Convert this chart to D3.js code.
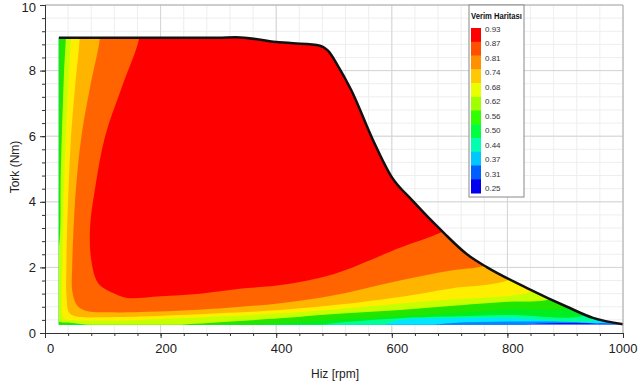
<!DOCTYPE html>
<html>
<head>
<meta charset="utf-8">
<script src="https://cdn.jsdelivr.net/npm/d3@7"></script>
<style>
  body { margin: 0; background: #fff; }
  svg { display: block; font-family: "Liberation Sans Narrow", "Liberation Sans", Arial, sans-serif; }
</style>
</head>
<body>
<svg id="chart" width="638" height="386"></svg>
<script>
// torque envelope (rpm, Nm)
var envRpm    = [24, 100, 200, 300, 330, 400, 470, 490, 505, 530, 567, 600, 635, 690, 730, 765, 834, 903, 948, 1000];
var envTorque = [9.0, 9.0, 9.0, 9.0, 9.02, 8.87, 8.78, 8.6, 8.2, 7.4, 5.9, 4.75, 4.05, 3.05, 2.4, 2.0, 1.37, 0.8, 0.46, 0.27];
var minTorque = 0.25;

// efficiency levels, boundary of the region >= level (rpm, Nm)
var levels = [0.87, 0.81, 0.74, 0.68, 0.62, 0.56, 0.50, 0.44, 0.37, 0.31];
var bandColors = ["#ff0000", "#ff6400", "#ffb400", "#ffee00", "#c8ff00", "#22e600", "#00ee20", "#00ff99", "#00e6ff", "#0088ff"];
var baseColor = "#0010ff";

var c087 = [[163,9.6],[163,9],[133,7.5],[104,6],[87,4.45],[78,3.23],[80,2.23],[92,1.52],[118,1.22],[142,1.07],[200,1.12],[268,1.2],[337,1.35],[407,1.46],[500,1.8],[614,2.6],[683,3.05],[730,3.5]];
var c081 = [[95,9.6],[95,9],[78,7.5],[63,6],[54,4.5],[50,3.4],[47,2],[47,1.3],[55,0.85],[70,0.68],[110,0.63],[164,0.64],[300,0.75],[407,0.91],[500,1.15],[614,1.6],[700,1.9],[760,2.05],[800,2.4]];
var c074 = [[60,9.6],[60,9],[52,7.5],[45,6],[41,4.5],[38,3],[37,2],[37,1.2],[42,0.62],[55,0.5],[100,0.48],[164,0.5],[300,0.6],[407,0.7],[500,0.85],[614,1.1],[700,1.35],[804,1.62],[850,2.2]];
var c068 = [[45,9.6],[45,9],[40,7.5],[36,6],[33,4.5],[31,3],[30,2],[29,1],[32,0.45],[45,0.4],[100,0.38],[164,0.4],[300,0.5],[407,0.6],[500,0.72],[614,0.9],[700,1.02],[844,1.27],[880,1.7]];
var c062 = [[36,9.6],[36,9],[33,8],[31,7],[29,6],[27,4.5],[26,3],[20,2],[15,1.2],[15,0.5],[25,0.34],[40,0.32],[100,0.2],[200,0.2],[260,0.28],[407,0.45],[500,0.58],[614,0.7],[700,0.82],[800,0.95],[874,1.03],[910,1.4]];
var c056 = [[20,9.6],[20,9],[15,7],[10,4],[10,0.3],[60,0.28],[100,0.18],[300,0.18],[407,0.3],[500,0.4],[614,0.5],[700,0.6],[800,0.72],[905,0.78],[940,1.2]];
var c050 = [[0,9.6],[0,0.2],[450,0.2],[500,0.3],[614,0.45],[700,0.5],[800,0.55],[935,0.55],[960,1]];
var c044 = [[0,9.6],[0,0.1],[557,0.1],[614,0.4],[700,0.45],[800,0.45],[960,0.42],[980,0.8]];
var c037 = [[0,9.6],[0,0.1],[600,0.1],[700,0.3],[800,0.35],[900,0.35],[975,0.36],[990,0.8]];
var c031 = [[0,9.6],[0,0.1],[770,0.1],[850,0.28],[950,0.3],[990,0.3],[1000,0.6]];
var boundaries = [c087, c081, c074, c068, c062, c056, c050, c044, c037, c031];

var xTicks = [0, 200, 400, 600, 800, 1000];
var yTicks = [0, 2, 4, 6, 8, 10];

var legendLabels = ["0.93", "0.87", "0.81", "0.74", "0.68", "0.62", "0.56", "0.50", "0.44", "0.37", "0.31", "0.25"];
var legendColors = ["#ff0000", "#ff5000", "#ff9000", "#ffc800", "#e8ff00", "#a0ff00", "#30ff00", "#00ff40", "#00ffb0", "#00c8ff", "#0060ff", "#0000f0"];

var svg = d3.select("#chart");
var x = d3.scaleLinear().domain([0, 1000]).range([45, 623]);
var y = d3.scaleLinear().domain([0, 10]).range([333, 5]);

// grid
var grid = svg.append("g");
grid.selectAll(".vmin").data(d3.range(40, 1000, 40)).enter().append("line")
  .attr("x1", d => x(d)).attr("x2", d => x(d)).attr("y1", y(0)).attr("y2", y(10))
  .attr("stroke", "#eeeeee");
grid.selectAll(".hmin").data(d3.range(1, 25).map(i => i * 0.4)).enter().append("line")
  .attr("x1", x(0)).attr("x2", x(1000)).attr("y1", d => y(d)).attr("y2", d => y(d))
  .attr("stroke", "#eeeeee");
grid.selectAll(".vmaj").data(xTicks.slice(1)).enter().append("line")
  .attr("x1", d => x(d)).attr("x2", d => x(d)).attr("y1", y(0)).attr("y2", y(10))
  .attr("stroke", "#d4d4d4");
grid.selectAll(".hmaj").data(yTicks.slice(1)).enter().append("line")
  .attr("x1", x(0)).attr("x2", x(1000)).attr("y1", d => y(d)).attr("y2", d => y(d))
  .attr("stroke", "#d4d4d4");

// envelope clip
var env = envRpm.map((r, i) => [r, envTorque[i]]);
var envLine = d3.line().x(d => x(d[0])).y(d => y(d[1])).curve(d3.curveMonotoneX);
var envPath = envLine(env) + "L" + x(1000) + "," + y(minTorque) + "L" + x(envRpm[0]) + "," + y(minTorque) + "Z";

svg.append("clipPath").attr("id", "env").append("path").attr("d", envPath);

var map = svg.append("g").attr("clip-path", "url(#env)");
map.append("path").attr("d", envPath).attr("fill", baseColor);

var bLine = d3.line().x(d => x(d[0])).y(d => y(d[1])).curve(d3.curveCatmullRom.alpha(0.5));
function regionPath(pts) {
  var first = pts[0], last = pts[pts.length - 1];
  return bLine(pts) + "L" + x(1100) + "," + y(last[1]) + "L" + x(1100) + "," + y(10.5) +
    "L" + x(first[0]) + "," + y(10.5) + "Z";
}
// draw lowest level first
var order = d3.range(levels.length).reverse();
map.selectAll("path.band").data(order).enter().append("path")
  .attr("class", "band")
  .attr("d", i => regionPath(boundaries[i]))
  .attr("fill", i => bandColors[i]);

// torque curve
svg.append("path").attr("d", envLine(env))
  .attr("fill", "none").attr("stroke", "#111").attr("stroke-width", 2.5);

// plot frame
svg.append("line").attr("x1", x(0)).attr("x2", x(1000)).attr("y1", y(10)).attr("y2", y(10)).attr("stroke", "#b0b0b0");
svg.append("line").attr("x1", x(1000)).attr("x2", x(1000)).attr("y1", y(10)).attr("y2", y(0)).attr("stroke", "#b0b0b0");

// axes
var xMinor = svg.append("g").attr("transform", "translate(0," + y(0) + ")")
  .call(d3.axisBottom(x).tickValues(d3.range(0, 1001, 40)).tickSize(3).tickFormat(""));
var yMinor = svg.append("g").attr("transform", "translate(" + x(0) + ",0)")
  .call(d3.axisLeft(y).tickValues(d3.range(0, 26).map(i => i * 0.4)).tickSize(3).tickFormat(""));
var xAxis = svg.append("g").attr("transform", "translate(0," + y(0) + ")")
  .call(d3.axisBottom(x).tickValues(xTicks).tickSize(5).tickFormat(d3.format("d")));
var yAxis = svg.append("g").attr("transform", "translate(" + x(0) + ",0)")
  .call(d3.axisLeft(y).tickValues(yTicks).tickSize(5).tickFormat(d3.format("d")));

[xMinor, yMinor, xAxis, yAxis].forEach(g => {
  g.select(".domain").attr("stroke", "#333");
  g.selectAll(".tick line").attr("stroke", "#333");
});
xAxis.selectAll("text").attr("font-size", 13).attr("fill", "#222").attr("dx", 5).attr("dy", "0.9em");
// last label sits at the window edge
xAxis.selectAll("text").filter(d => d === 1000).attr("text-anchor", "end").attr("dx", 14);
yAxis.selectAll("text").attr("font-size", 13).attr("fill", "#222").attr("dx", -1)
  .filter(d => d === 10).attr("dy", "0.5em");

svg.append("text").attr("x", 335).attr("y", 378).attr("text-anchor", "middle")
  .attr("font-size", 12).attr("fill", "#222").text("Hiz [rpm]");
svg.append("text").attr("transform", "translate(19,167) rotate(-90)").attr("text-anchor", "middle")
  .attr("font-size", 12).attr("fill", "#222").text("Tork (Nm)");

// legend
var lg = svg.append("g").attr("transform", "translate(469,5)");
lg.append("rect").attr("width", 55).attr("height", 192)
  .attr("fill", "#fff").attr("stroke", "#888");
lg.append("text").attr("x", 2).attr("y", 14).attr("font-size", 9).attr("font-weight", "bold")
  .attr("fill", "#111").attr("textLength", 51).attr("lengthAdjust", "spacingAndGlyphs")
  .text("Verim Haritası");
var sw = 165 / legendColors.length;
lg.selectAll("rect.sw").data(legendColors).enter().append("rect")
  .attr("class", "sw")
  .attr("x", 2).attr("y", (d, i) => 23 + i * sw)
  .attr("width", 10).attr("height", sw + 0.5)
  .attr("fill", d => d);
lg.selectAll("text.lb").data(legendLabels).enter().append("text")
  .attr("class", "lb")
  .attr("x", 16).attr("y", (d, i) => 27 + i * 14.45)
  .attr("font-size", 8).attr("fill", "#333")
  .text(d => d);
</script>
</body>
</html>
